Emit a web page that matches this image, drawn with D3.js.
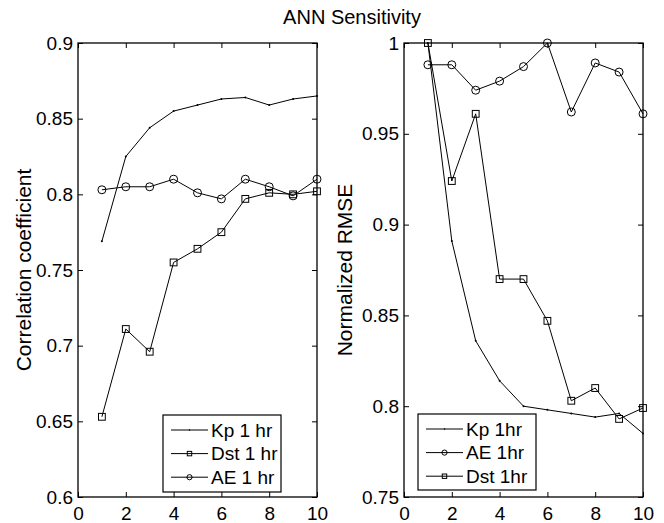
<!DOCTYPE html>
<html>
<head>
<meta charset="utf-8">
<script src="https://cdn.jsdelivr.net/npm/d3@7"></script>
<style>
  body { margin: 0; background: #fff; }
  svg { font-family: "Liberation Sans", Arial, Helvetica, sans-serif; }
  .domain { stroke: none; }
  .tick line { stroke: #000; stroke-width: 1; }
</style>
</head>
<body>
<svg width="664" height="523"></svg>
<script>
// lag (hours) on x
var lags = [1, 2, 3, 4, 5, 6, 7, 8, 9, 10];

// left panel: correlation coefficient
var corrKp  = [0.769, 0.825, 0.844, 0.855, 0.859, 0.863, 0.864, 0.859, 0.863, 0.865];
var corrDst = [0.653, 0.711, 0.696, 0.755, 0.764, 0.775, 0.797, 0.801, 0.800, 0.802];
var corrAE  = [0.803, 0.805, 0.805, 0.810, 0.801, 0.797, 0.810, 0.805, 0.799, 0.810];

// right panel: normalized RMSE
var rmseKp  = [1.000, 0.891, 0.836, 0.814, 0.800, 0.798, 0.796, 0.794, 0.796, 0.785];
var rmseAE  = [0.988, 0.988, 0.974, 0.979, 0.987, 1.000, 0.962, 0.989, 0.984, 0.961];
var rmseDst = [1.000, 0.924, 0.961, 0.870, 0.870, 0.847, 0.803, 0.810, 0.793, 0.799];

var xTicks = [0, 2, 4, 6, 8, 10];
var corrTicks = [0.6, 0.65, 0.7, 0.75, 0.8, 0.85, 0.9];
var rmseTicks = [0.75, 0.8, 0.85, 0.9, 0.95, 1];

var title = 'ANN Sensitivity';

var svg = d3.select('svg');
var plotTop = 43, plotBottom = 497;
var tickFont = 19;

svg.append('text')
  .attr('x', 352).attr('y', 24)
  .attr('text-anchor', 'middle')
  .attr('font-size', 20)
  .text(title);

function panel(opts) {
  var x = d3.scaleLinear().domain([0, 10]).range([opts.left, opts.right]);
  var y = d3.scaleLinear().domain(opts.yDomain).range([plotBottom, plotTop]);
  var g = svg.append('g');

  // frame
  g.append('rect')
    .attr('x', opts.left).attr('y', plotTop)
    .attr('width', opts.right - opts.left).attr('height', plotBottom - plotTop)
    .attr('fill', 'none').attr('stroke', '#000').attr('stroke-width', 1.3);

  // axes, ticks pointing inward
  var fmt = d => d3.format('')(+d.toFixed(2));
  var xb = g.append('g').attr('transform', 'translate(0,' + plotBottom + ')')
    .call(d3.axisBottom(x).tickValues(xTicks).tickSize(-5).tickPadding(6).tickFormat(fmt));
  g.append('g').attr('transform', 'translate(0,' + plotTop + ')')
    .call(d3.axisTop(x).tickValues(xTicks).tickSize(-5).tickFormat(''));
  g.append('g').attr('transform', 'translate(' + opts.left + ',0)')
    .call(d3.axisLeft(y).tickValues(opts.yTicks).tickSize(-5).tickPadding(5).tickFormat(fmt));
  g.append('g').attr('transform', 'translate(' + opts.right + ',0)')
    .call(d3.axisRight(y).tickValues(opts.yTicks).tickSize(-5).tickFormat(''));
  g.selectAll('.tick text').attr('font-size', tickFont).attr('fill', '#000');
  g.selectAll('g[font-family]').attr('font-family', null).attr('font-size', null);
  xb.selectAll('.tick text').attr('dy', '0.9em');

  // y label
  g.append('text')
    .attr('transform', 'translate(' + opts.labelX + ',' + ((plotTop + plotBottom) / 2) + ') rotate(-90)')
    .attr('text-anchor', 'middle')
    .attr('font-size', 21)
    .text(opts.label);

  var line = d3.line().x((d, i) => x(lags[i])).y(d => y(d));

  opts.series.forEach(s => {
    g.append('path').attr('d', line(s.values))
      .attr('fill', 'none').attr('stroke', '#000').attr('stroke-width', 1);
    drawMarkers(g, s.marker, s.values.map((v, i) => [x(lags[i]), y(v)]), s.marker == 'dot' ? 1 : 4);
  });

  // legend
  var lg = opts.legend;
  g.append('rect')
    .attr('x', lg.x).attr('y', lg.y).attr('width', lg.w).attr('height', lg.h)
    .attr('fill', '#fff').attr('stroke', '#000').attr('stroke-width', 1.2);
  lg.items.forEach((s, i) => {
    var cy = lg.y + 15 + i * 23.6;
    g.append('line')
      .attr('x1', lg.x + 8).attr('x2', lg.x + 45)
      .attr('y1', cy).attr('y2', cy)
      .attr('stroke', '#000');
    drawMarkers(g, s.marker, [[lg.x + 26.5, cy]], s.marker == 'dot' ? 0.8 : 2.6);
    g.append('text')
      .attr('x', lg.x + 48).attr('y', cy)
      .attr('dy', '0.36em')
      .attr('font-size', tickFont)
      .text(s.name);
  });
}

function drawMarkers(g, kind, pts, r) {
  pts.forEach(p => {
    if (kind == 'circle') {
      g.append('circle').attr('cx', p[0]).attr('cy', p[1]).attr('r', r)
        .attr('fill', 'none').attr('stroke', '#000');
    } else if (kind == 'square') {
      var s = r * 0.85;
      g.append('rect').attr('x', p[0] - s).attr('y', p[1] - s)
        .attr('width', 2 * s).attr('height', 2 * s)
        .attr('fill', 'none').attr('stroke', '#000');
    } else {
      g.append('circle').attr('cx', p[0]).attr('cy', p[1]).attr('r', r).attr('fill', '#000');
    }
  });
}

panel({
  left: 78, right: 317,
  yDomain: [0.6, 0.9], yTicks: corrTicks,
  label: 'Correlation coefficient', labelX: 31,
  series: [
    { name: 'Kp 1 hr', values: corrKp, marker: 'dot' },
    { name: 'Dst 1 hr', values: corrDst, marker: 'square' },
    { name: 'AE 1 hr', values: corrAE, marker: 'circle' }
  ],
  legend: {
    x: 163, y: 415, w: 118, h: 77,
    items: [
      { name: 'Kp 1 hr', marker: 'dot' },
      { name: 'Dst 1 hr', marker: 'square' },
      { name: 'AE 1 hr', marker: 'circle' }
    ]
  }
});

panel({
  left: 404, right: 643,
  yDomain: [0.75, 1], yTicks: rmseTicks,
  label: 'Normalized RMSE', labelX: 352,
  series: [
    { name: 'Kp 1hr', values: rmseKp, marker: 'dot' },
    { name: 'AE 1hr', values: rmseAE, marker: 'circle' },
    { name: 'Dst 1hr', values: rmseDst, marker: 'square' }
  ],
  legend: {
    x: 418, y: 414, w: 118, h: 76,
    items: [
      { name: 'Kp 1hr', marker: 'dot' },
      { name: 'AE 1hr', marker: 'circle' },
      { name: 'Dst 1hr', marker: 'square' }
    ]
  }
});
</script>
</body>
</html>
